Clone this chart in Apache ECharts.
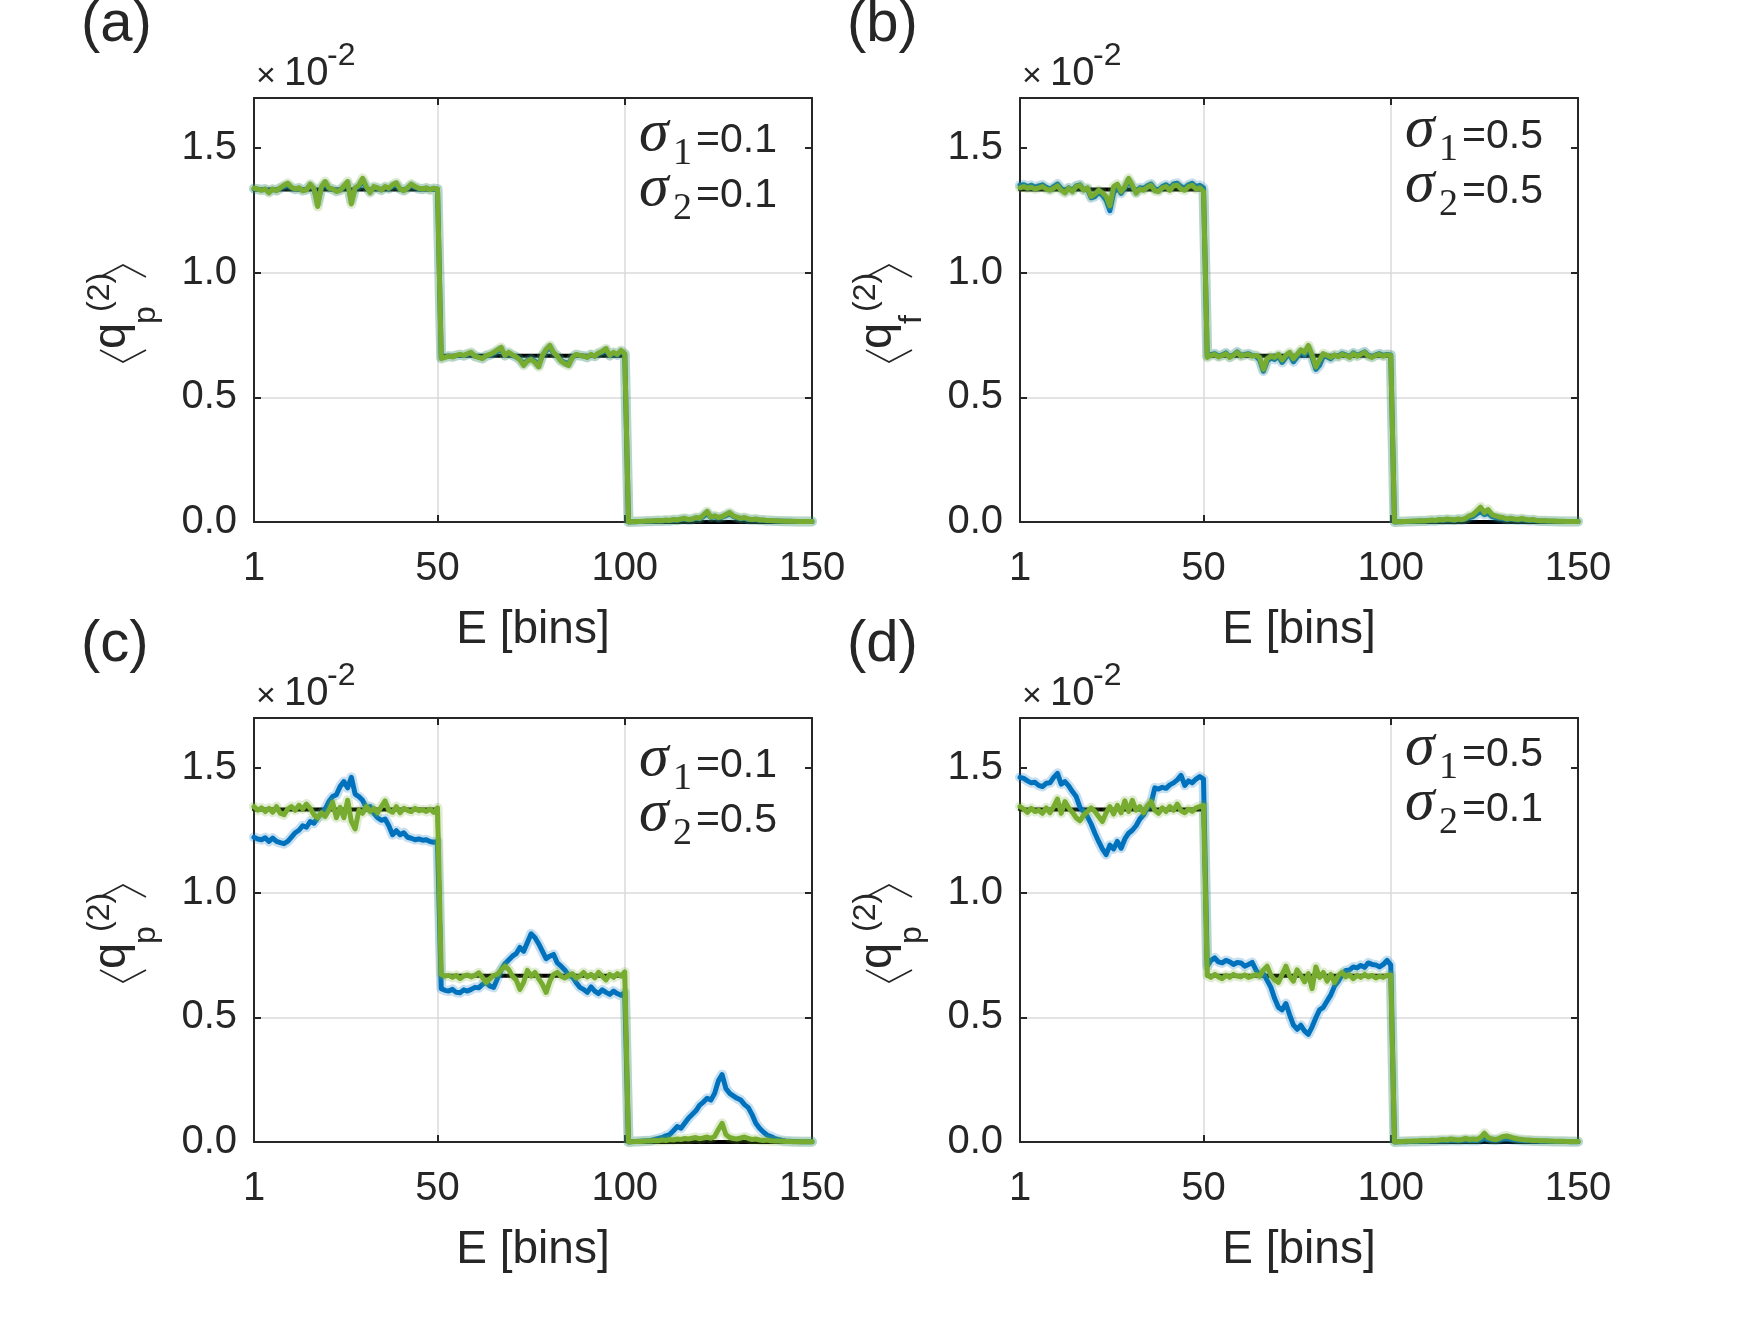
<!DOCTYPE html>
<html>
<head>
<meta charset="utf-8">
<script src="https://cdn.jsdelivr.net/npm/echarts@6/dist/echarts.min.js"></script>
<style>
html, body { margin: 0; background: #fff; }
#main { width: 1744px; height: 1343px; }
</style>
</head>
<body>
<div id="main"></div>
<script>
var xTicks = [1, 50, 100, 150];
var yTicks = [0, 0.5, 1.0, 1.5];

// ground truth step (bin, value)
var truthBins = [1, 50, 51, 100, 101, 150];
var truthVals = [1.333, 1.333, 0.667, 0.667, 0, 0];

// panel (a) sigma1=0.1 sigma2=0.1
var aBlue = [
  1.336, 1.334, 1.332, 1.334, 1.325, 1.333, 1.330, 1.338, 1.345, 1.350,
  1.340, 1.334, 1.338, 1.330, 1.333, 1.348, 1.336, 1.280, 1.340, 1.355,
  1.338, 1.334, 1.328, 1.331, 1.343, 1.355, 1.290, 1.337, 1.345, 1.365,
  1.342, 1.325, 1.341, 1.338, 1.332, 1.342, 1.336, 1.347, 1.352, 1.335,
  1.330, 1.338, 1.350, 1.342, 1.336, 1.334, 1.338, 1.333, 1.336, 1.334,
  0.658, 0.662, 0.665, 0.663, 0.667, 0.670, 0.667, 0.672, 0.676, 0.665,
  0.661, 0.657, 0.666, 0.670, 0.676, 0.684, 0.692, 0.667, 0.676, 0.668,
  0.662, 0.652, 0.635, 0.648, 0.654, 0.645, 0.630, 0.666, 0.686, 0.700,
  0.677, 0.665, 0.648, 0.640, 0.635, 0.660, 0.670, 0.667, 0.665, 0.661,
  0.670, 0.665, 0.675, 0.680, 0.688, 0.667, 0.677, 0.670, 0.683, 0.673,
  0.000, 0.001, 0.001, 0.002, 0.002, 0.003, 0.003, 0.004, 0.005, 0.004,
  0.006, 0.005, 0.008, 0.007, 0.010, 0.012, 0.009, 0.010, 0.015, 0.013,
  0.022, 0.034, 0.018, 0.021, 0.016, 0.019, 0.025, 0.032, 0.022, 0.017,
  0.013, 0.015, 0.010, 0.009, 0.010, 0.007, 0.007, 0.005, 0.005, 0.004,
  0.004, 0.003, 0.003, 0.003, 0.002, 0.002, 0.002, 0.002, 0.002, 0.002
];
var aGreen = [
  1.338, 1.335, 1.330, 1.335, 1.320, 1.335, 1.328, 1.340, 1.350, 1.358,
  1.342, 1.335, 1.340, 1.328, 1.332, 1.355, 1.338, 1.265, 1.345, 1.365,
  1.340, 1.335, 1.325, 1.330, 1.348, 1.365, 1.275, 1.340, 1.350, 1.378,
  1.345, 1.320, 1.345, 1.340, 1.330, 1.345, 1.338, 1.352, 1.360, 1.335,
  1.328, 1.340, 1.355, 1.345, 1.338, 1.335, 1.340, 1.332, 1.338, 1.335,
  0.655, 0.660, 0.665, 0.662, 0.668, 0.672, 0.668, 0.675, 0.680, 0.665,
  0.660, 0.655, 0.668, 0.672, 0.680, 0.690, 0.700, 0.668, 0.680, 0.670,
  0.662, 0.650, 0.628, 0.645, 0.652, 0.640, 0.622, 0.668, 0.692, 0.708,
  0.680, 0.665, 0.645, 0.635, 0.628, 0.660, 0.672, 0.668, 0.665, 0.660,
  0.672, 0.665, 0.678, 0.685, 0.695, 0.668, 0.680, 0.672, 0.688, 0.675,
  0.000, 0.001, 0.002, 0.002, 0.003, 0.004, 0.004, 0.005, 0.006, 0.005,
  0.008, 0.006, 0.010, 0.008, 0.012, 0.015, 0.010, 0.012, 0.018, 0.015,
  0.028, 0.042, 0.020, 0.025, 0.018, 0.022, 0.030, 0.038, 0.025, 0.020,
  0.015, 0.018, 0.012, 0.010, 0.012, 0.008, 0.008, 0.006, 0.006, 0.005,
  0.004, 0.004, 0.003, 0.003, 0.003, 0.002, 0.002, 0.002, 0.002, 0.002
];

// panel (b) sigma1=0.5 sigma2=0.5
var bBlue = [
  1.350, 1.352, 1.345, 1.350, 1.342, 1.348, 1.352, 1.342, 1.335, 1.345,
  1.355, 1.338, 1.325, 1.340, 1.330, 1.348, 1.352, 1.332, 1.335, 1.300,
  1.305, 1.322, 1.310, 1.290, 1.248, 1.320, 1.340, 1.318, 1.340, 1.365,
  1.345, 1.322, 1.340, 1.338, 1.348, 1.355, 1.335, 1.332, 1.345, 1.352,
  1.340, 1.355, 1.358, 1.345, 1.340, 1.352, 1.358, 1.345, 1.350, 1.340,
  0.665, 0.672, 0.675, 0.665, 0.670, 0.678, 0.662, 0.670, 0.682, 0.668,
  0.672, 0.675, 0.668, 0.665, 0.650, 0.605, 0.645, 0.658, 0.652, 0.665,
  0.640, 0.660, 0.672, 0.642, 0.662, 0.682, 0.670, 0.695, 0.660, 0.612,
  0.628, 0.665, 0.662, 0.655, 0.668, 0.665, 0.675, 0.670, 0.662, 0.678,
  0.668, 0.675, 0.682, 0.668, 0.662, 0.670, 0.675, 0.668, 0.672, 0.670,
  0.000, 0.001, 0.001, 0.002, 0.002, 0.003, 0.003, 0.004, 0.004, 0.005,
  0.006, 0.005, 0.008, 0.007, 0.009, 0.008, 0.007, 0.010, 0.009, 0.012,
  0.018, 0.022, 0.032, 0.042, 0.030, 0.035, 0.022, 0.018, 0.015, 0.013,
  0.010, 0.012, 0.010, 0.008, 0.010, 0.008, 0.006, 0.007, 0.005, 0.004,
  0.004, 0.003, 0.003, 0.003, 0.002, 0.002, 0.002, 0.002, 0.002, 0.002
];
var bGreen = [
  1.340, 1.345, 1.338, 1.342, 1.335, 1.340, 1.345, 1.335, 1.330, 1.338,
  1.348, 1.330, 1.320, 1.338, 1.325, 1.345, 1.350, 1.330, 1.340, 1.305,
  1.315, 1.330, 1.320, 1.305, 1.268, 1.345, 1.355, 1.325, 1.345, 1.378,
  1.350, 1.318, 1.335, 1.330, 1.342, 1.350, 1.328, 1.325, 1.340, 1.345,
  1.330, 1.348, 1.350, 1.335, 1.330, 1.345, 1.350, 1.335, 1.340, 1.325,
  0.660, 0.668, 0.672, 0.662, 0.668, 0.675, 0.660, 0.668, 0.680, 0.665,
  0.670, 0.672, 0.665, 0.668, 0.660, 0.612, 0.655, 0.665, 0.660, 0.672,
  0.650, 0.668, 0.680, 0.655, 0.672, 0.690, 0.680, 0.708, 0.670, 0.622,
  0.650, 0.675, 0.668, 0.660, 0.670, 0.662, 0.672, 0.668, 0.660, 0.675,
  0.665, 0.672, 0.680, 0.665, 0.660, 0.668, 0.672, 0.665, 0.670, 0.668,
  0.000, 0.001, 0.002, 0.002, 0.003, 0.003, 0.004, 0.005, 0.004, 0.006,
  0.008, 0.006, 0.010, 0.008, 0.012, 0.010, 0.008, 0.012, 0.010, 0.015,
  0.025, 0.030, 0.045, 0.060, 0.038, 0.050, 0.030, 0.025, 0.020, 0.018,
  0.012, 0.015, 0.012, 0.010, 0.014, 0.010, 0.008, 0.010, 0.006, 0.005,
  0.005, 0.004, 0.004, 0.003, 0.003, 0.003, 0.002, 0.002, 0.002, 0.002
];

// panel (c) sigma1=0.1 sigma2=0.5
var cBlue = [
  1.222, 1.215, 1.212, 1.220, 1.205, 1.218, 1.205, 1.200, 1.196, 1.205,
  1.222, 1.240, 1.250, 1.268, 1.262, 1.285, 1.278, 1.300, 1.318, 1.335,
  1.365, 1.385, 1.392, 1.425, 1.445, 1.420, 1.462, 1.395, 1.385, 1.370,
  1.340, 1.345, 1.318, 1.300, 1.290, 1.295, 1.268, 1.232, 1.248, 1.232,
  1.240, 1.222, 1.218, 1.212, 1.215, 1.210, 1.212, 1.205, 1.202, 1.205,
  0.615, 0.608, 0.605, 0.612, 0.600, 0.598, 0.610, 0.605, 0.612, 0.620,
  0.618, 0.632, 0.640, 0.625, 0.620, 0.655, 0.690, 0.715, 0.730, 0.745,
  0.755, 0.780, 0.765, 0.800, 0.835, 0.820, 0.795, 0.765, 0.735, 0.745,
  0.752, 0.718, 0.705, 0.690, 0.668, 0.662, 0.640, 0.620, 0.612, 0.600,
  0.622, 0.605, 0.595, 0.610, 0.600, 0.592, 0.605, 0.595, 0.588, 0.600,
  0.000, 0.002, 0.002, 0.003, 0.004, 0.005, 0.006, 0.010, 0.014, 0.018,
  0.025, 0.030, 0.045, 0.062, 0.055, 0.075, 0.095, 0.110, 0.125, 0.148,
  0.160, 0.175, 0.168, 0.195, 0.245, 0.270, 0.215, 0.195, 0.185, 0.175,
  0.168, 0.150, 0.138, 0.110, 0.075, 0.055, 0.040, 0.028, 0.022, 0.015,
  0.010, 0.006, 0.004, 0.003, 0.002, 0.002, 0.001, 0.001, 0.001, 0.001
];
var cGreen = [
  1.345, 1.330, 1.340, 1.325, 1.338, 1.322, 1.345, 1.318, 1.312, 1.335,
  1.345, 1.330, 1.350, 1.335, 1.355, 1.338, 1.312, 1.300, 1.320, 1.305,
  1.330, 1.362, 1.300, 1.342, 1.300, 1.370, 1.285, 1.255, 1.330, 1.318,
  1.345, 1.325, 1.338, 1.320, 1.345, 1.368, 1.330, 1.322, 1.345, 1.320,
  1.338, 1.330, 1.325, 1.338, 1.328, 1.332, 1.325, 1.335, 1.322, 1.340,
  0.672, 0.665, 0.668, 0.660, 0.668, 0.655, 0.665, 0.670, 0.662, 0.668,
  0.678, 0.660, 0.640, 0.655, 0.668, 0.672, 0.690, 0.705, 0.692, 0.665,
  0.650, 0.612, 0.640, 0.688, 0.665, 0.680, 0.655, 0.632, 0.600, 0.645,
  0.672, 0.680, 0.665, 0.658, 0.668, 0.675, 0.658, 0.665, 0.680, 0.662,
  0.672, 0.658, 0.680, 0.665, 0.650, 0.672, 0.660, 0.675, 0.665, 0.682,
  0.000, 0.001, 0.002, 0.002, 0.003, 0.004, 0.004, 0.006, 0.005, 0.008,
  0.006, 0.010, 0.008, 0.012, 0.010, 0.014, 0.012, 0.015, 0.018, 0.013,
  0.016, 0.020, 0.015, 0.022, 0.050, 0.075, 0.030, 0.018, 0.014, 0.012,
  0.016, 0.020, 0.014, 0.010, 0.012, 0.008, 0.006, 0.008, 0.005, 0.004,
  0.004, 0.003, 0.002, 0.002, 0.001, 0.001, 0.001, 0.001, 0.001, 0.001
];

// panel (d) sigma1=0.5 sigma2=0.1
var dBlue = [
  1.462, 1.458, 1.448, 1.440, 1.442, 1.430, 1.425, 1.438, 1.440, 1.462,
  1.478, 1.435, 1.445, 1.428, 1.405, 1.385, 1.342, 1.325, 1.305, 1.275,
  1.238, 1.205, 1.175, 1.152, 1.190, 1.175, 1.205, 1.178, 1.215, 1.238,
  1.250, 1.268, 1.295, 1.312, 1.340, 1.358, 1.420, 1.415, 1.422, 1.418,
  1.432, 1.440, 1.452, 1.470, 1.430, 1.448, 1.440, 1.455, 1.465, 1.455,
  0.705, 0.728, 0.738, 0.722, 0.718, 0.728, 0.722, 0.712, 0.720, 0.718,
  0.705, 0.712, 0.720, 0.690, 0.670, 0.675, 0.648, 0.620, 0.575, 0.540,
  0.530, 0.555, 0.510, 0.470, 0.452, 0.468, 0.445, 0.432, 0.462, 0.498,
  0.530, 0.540, 0.565, 0.590, 0.625, 0.645, 0.670, 0.688, 0.690, 0.702,
  0.698, 0.708, 0.700, 0.718, 0.712, 0.710, 0.702, 0.712, 0.728, 0.710,
  0.000, 0.001, 0.001, 0.001, 0.002, 0.002, 0.002, 0.003, 0.003, 0.003,
  0.004, 0.004, 0.005, 0.005, 0.005, 0.006, 0.006, 0.005, 0.006, 0.008,
  0.006, 0.007, 0.006, 0.009, 0.014, 0.010, 0.008, 0.007, 0.009, 0.012,
  0.013, 0.011, 0.009, 0.007, 0.006, 0.005, 0.005, 0.004, 0.004, 0.003,
  0.003, 0.003, 0.002, 0.002, 0.002, 0.002, 0.002, 0.001, 0.001, 0.001
];
var dGreen = [
  1.345, 1.335, 1.322, 1.338, 1.325, 1.330, 1.318, 1.340, 1.320, 1.345,
  1.375, 1.318, 1.365, 1.340, 1.322, 1.300, 1.288, 1.310, 1.325, 1.340,
  1.325, 1.305, 1.285, 1.320, 1.345, 1.315, 1.350, 1.320, 1.368, 1.325,
  1.370, 1.330, 1.345, 1.320, 1.348, 1.365, 1.330, 1.318, 1.340, 1.325,
  1.345, 1.330, 1.355, 1.328, 1.320, 1.335, 1.325, 1.340, 1.345, 1.350,
  0.668, 0.660, 0.672, 0.662, 0.655, 0.668, 0.660, 0.672, 0.665, 0.662,
  0.670, 0.660, 0.665, 0.672, 0.665, 0.690, 0.705, 0.668, 0.650, 0.640,
  0.672, 0.705, 0.665, 0.645, 0.690, 0.668, 0.642, 0.675, 0.615, 0.702,
  0.660, 0.680, 0.645, 0.672, 0.640, 0.668, 0.680, 0.662, 0.670, 0.655,
  0.668, 0.660, 0.672, 0.662, 0.668, 0.658, 0.665, 0.660, 0.668, 0.670,
  0.000, 0.001, 0.002, 0.003, 0.003, 0.004, 0.004, 0.005, 0.006, 0.005,
  0.007, 0.006, 0.008, 0.010, 0.008, 0.012, 0.010, 0.008, 0.010, 0.014,
  0.010, 0.012, 0.010, 0.018, 0.035, 0.018, 0.012, 0.010, 0.015, 0.022,
  0.024, 0.020, 0.015, 0.012, 0.010, 0.008, 0.008, 0.006, 0.006, 0.005,
  0.005, 0.004, 0.004, 0.003, 0.003, 0.003, 0.002, 0.002, 0.002, 0.002
];

var COL = { blue: '#0072BD', green: '#77AC30', truth: '#000000', axis: '#262626', grid: '#dadada' };
var SANS = '"Liberation Sans", Arial, sans-serif';
var SERIF = '"Liberation Serif", "Times New Roman", serif';
var GW = 558, GH = 424;

var panels = [
  { tag: '(a)', sub: 'p', s1: '0.1', s2: '0.1', left: 254, top: 98, noteY: 43, blue: aBlue, green: aGreen },
  { tag: '(b)', sub: 'f', s1: '0.5', s2: '0.5', left: 1020, top: 98, noteY: 39, blue: bBlue, green: bGreen },
  { tag: '(c)', sub: 'p', s1: '0.1', s2: '0.5', left: 254, top: 718, noteY: 48, blue: cBlue, green: cGreen },
  { tag: '(d)', sub: 'p', s1: '0.5', s2: '0.1', left: 1020, top: 718, noteY: 37, blue: dBlue, green: dGreen }
];

function pairs(vals) {
  return vals.map(function (v, i) { return [i + 1, v]; });
}
var truthData = truthBins.map(function (b, i) { return [b, truthVals[i]]; });

function txt(x, y, text, font, align) {
  return {
    type: 'text', x: x, y: y, silent: true, z: 100,
    style: {
      text: text, font: font, fill: COL.axis,
      align: align || 'left', textAlign: align || 'left',
      verticalAlign: 'middle', textVerticalAlign: 'middle'
    }
  };
}

var grids = [], xAxes = [], yAxes = [], series = [], graphics = [];
var axisLineStyle = { color: COL.axis, width: 2 };

panels.forEach(function (p, k) {
  grids.push({ left: p.left, top: p.top, width: GW, height: GH, outerBoundsMode: 'none', containLabel: false });

  xAxes.push({
    gridIndex: k, type: 'value', min: 1, max: 150, position: 'bottom',
    name: 'E [bins]', nameLocation: 'middle', nameGap: 85,
    nameTextStyle: { fontSize: 46, fontFamily: SANS, color: COL.axis },
    axisLine: { show: true, onZero: false, lineStyle: axisLineStyle },
    axisTick: { show: true, inside: true, length: 7, customValues: xTicks, lineStyle: axisLineStyle },
    axisLabel: { customValues: xTicks, fontSize: 40, fontFamily: SANS, color: COL.axis, margin: 27 },
    splitLine: { show: true, showMinLine: false, showMaxLine: false, lineStyle: { color: COL.grid, width: 1.5 } }
  });
  xAxes.push({
    gridIndex: k, type: 'value', min: 1, max: 150, position: 'top',
    axisLine: { show: true, onZero: false, lineStyle: axisLineStyle },
    axisTick: { show: true, inside: true, length: 7, customValues: xTicks, lineStyle: axisLineStyle },
    axisLabel: { show: false },
    splitLine: { show: false }
  });
  yAxes.push({
    gridIndex: k, type: 'value', min: 0, max: 1.7, interval: 0.5, position: 'left',
    axisLine: { show: true, onZero: false, lineStyle: axisLineStyle },
    axisTick: { show: true, inside: true, length: 7, customValues: yTicks, lineStyle: axisLineStyle },
    axisLabel: {
      customValues: yTicks, fontSize: 40, fontFamily: SANS, color: COL.axis, margin: 17,
      formatter: function (v) { return v.toFixed(1); }
    },
    splitLine: { show: true, showMinLine: false, showMaxLine: false, lineStyle: { color: COL.grid, width: 1.5 } }
  });
  yAxes.push({
    gridIndex: k, type: 'value', min: 0, max: 1.7, interval: 0.5, position: 'right',
    axisLine: { show: true, onZero: false, lineStyle: axisLineStyle },
    axisTick: { show: true, inside: true, length: 7, customValues: yTicks, lineStyle: axisLineStyle },
    axisLabel: { show: false },
    splitLine: { show: false }
  });

  var xi = 2 * k, yi = 2 * k;
  function line(data, color, width, opacity, z) {
    return {
      type: 'line', xAxisIndex: xi, yAxisIndex: yi, data: data,
      symbol: 'none', showSymbol: false, clip: false, silent: true, animation: false, z: z,
      lineStyle: { color: color, width: width, opacity: opacity, join: 'round', cap: 'round' }
    };
  }
  series.push(line(truthData, COL.truth, 4, 1, 2));
  series.push(line(pairs(p.blue), COL.blue, 10, 0.22, 3));
  series.push(line(pairs(p.blue), COL.blue, 5, 1, 4));
  series.push(line(pairs(p.green), COL.green, 10, 0.22, 5));
  series.push(line(pairs(p.green), COL.green, 5, 1, 6));

  // panel tag and exponent
  graphics.push(txt(p.left - 173, p.top - 73, p.tag, '58px ' + SANS));
  graphics.push(txt(p.left + 2, p.top - 21, '\u00d7', '34px ' + SANS));
  graphics.push(txt(p.left + 30, p.top - 24, '10', '40px ' + SANS));
  graphics.push(txt(p.left + 73, p.top - 42, '-2', '32px ' + SANS));

  // sigma annotations
  [[ '1', p.s1, 0 ], [ '2', p.s2, 55 ]].forEach(function (row) {
    var cy = p.top + p.noteY + row[2];
    graphics.push(txt(p.left + 385, cy - 7, '\u03c3', 'italic 60px ' + SERIF));
    graphics.push(txt(p.left + 419, cy + 13, row[0], '38px ' + SERIF));
    graphics.push(txt(p.left + 442, cy, '=' + row[1], '41px ' + SANS));
  });

  // rotated y label <q_p^(2)>
  graphics.push({
    type: 'group', x: p.left - 126, y: p.top + 214, rotation: Math.PI / 2, silent: true, z: 100,
    children: [
      { type: 'polyline', shape: { points: [[-38, -28], [-50, -5], [-38, 18]] },
        style: { stroke: COL.axis, lineWidth: 1.7, fill: null } },
      txt(-37, -16, 'q', '47px ' + SANS),
      txt(-12, 18, p.sub, '32px ' + SANS),
      txt(0, -28, '(2)', '32px ' + SANS),
      { type: 'polyline', shape: { points: [[35, -28], [47, -5], [35, 18]] },
        style: { stroke: COL.axis, lineWidth: 1.7, fill: null } }
    ]
  });
});

var chart = echarts.init(document.getElementById('main'), null, { renderer: 'canvas' });
chart.setOption({
  backgroundColor: '#ffffff',
  animation: false,
  grid: grids,
  xAxis: xAxes,
  yAxis: yAxes,
  series: series,
  graphic: { elements: graphics }
});
</script>
</body>
</html>
